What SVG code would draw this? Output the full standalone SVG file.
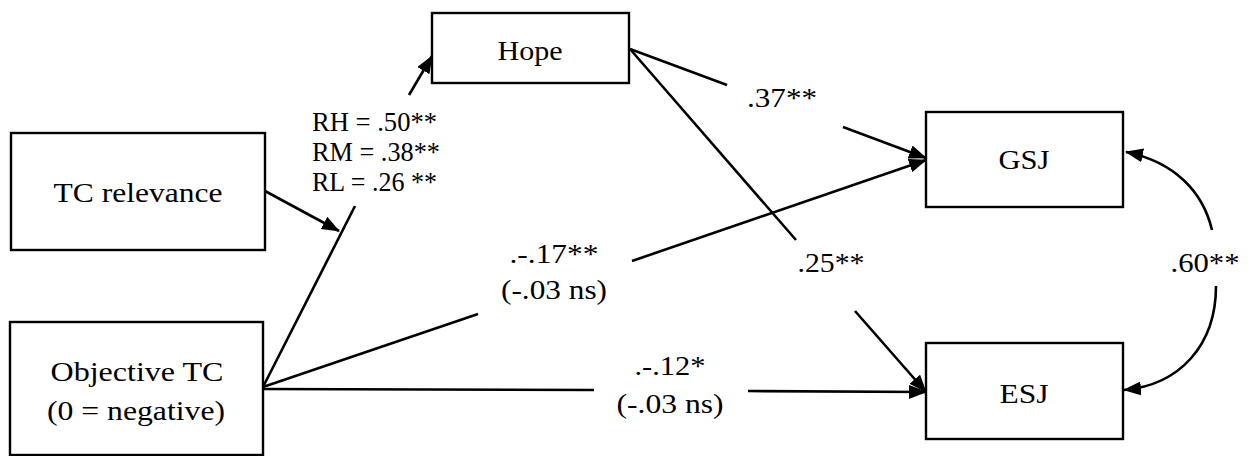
<svg xmlns="http://www.w3.org/2000/svg" width="1250" height="456" viewBox="0 0 1250 456" font-family="Liberation Serif, Times New Roman, DejaVu Serif, serif">
<style>
  .box { fill: #fff; stroke: #000; stroke-width: 2.4; }
  .lbl { font-family: 'Liberation Serif', 'Times New Roman', 'DejaVu Serif', serif; font-size: 28px; fill: #000; text-anchor: middle; }
  .st { text-anchor: start; }
  .ln { fill: none; stroke: #000; stroke-width: 2.6; }
  .arr { marker-end: url(#ah); }
</style>
<defs>
  <marker id="ah" viewBox="0 0 18 14" refX="17" refY="7" markerWidth="18" markerHeight="14" markerUnits="userSpaceOnUse" orient="auto">
    <path d="M0,0 L18,7 L0,14 z" fill="#000"/>
  </marker>
</defs>
<rect width="1250" height="456" fill="#fff"/>

<g id="connectors">
  <line class="ln" x1="263" y1="387" x2="355" y2="206"/>
  <line class="ln arr" x1="409" y1="95" x2="432" y2="56"/>
  <line class="ln arr" x1="265" y1="191" x2="339" y2="231"/>
  <line class="ln" x1="630" y1="49" x2="727" y2="85"/>
  <line class="ln arr" x1="843" y1="127" x2="926" y2="158"/>
  <line class="ln" x1="630" y1="49" x2="796" y2="240"/>
  <line class="ln arr" x1="855" y1="311" x2="926" y2="392"/>
  <line class="ln" x1="263" y1="387" x2="478" y2="314"/>
  <line class="ln arr" x1="632" y1="261" x2="926" y2="160"/>
  <line class="ln" x1="263" y1="389" x2="594" y2="390"/>
  <line class="ln arr" x1="748" y1="391" x2="926" y2="392"/>
  <path class="ln arr" d="M1212,230 C1203,192 1175,162 1126,152"/>
  <path class="ln arr" d="M1216,286 C1216,345 1180,385 1124,390"/>
</g>

<g id="node-hope">
  <rect class="box" x="432" y="13" width="197" height="70"/>
  <text class="lbl" x="530" y="60" textLength="65" lengthAdjust="spacingAndGlyphs">Hope</text>
</g>
<g id="node-tc-relevance">
  <rect class="box" x="11" y="133" width="254" height="117"/>
  <text class="lbl" x="138" y="202" textLength="169" lengthAdjust="spacingAndGlyphs">TC relevance</text>
</g>
<g id="node-objective-tc">
  <rect class="box" x="10" y="322" width="253" height="133"/>
  <text class="lbl" x="137" y="381" textLength="173" lengthAdjust="spacingAndGlyphs">Objective TC</text>
  <text class="lbl" x="136" y="420" textLength="178" lengthAdjust="spacingAndGlyphs">(0 = negative)</text>
</g>
<g id="node-gsj">
  <rect class="box" x="926" y="112" width="197" height="95"/>
  <text class="lbl" x="1024" y="169" textLength="51" lengthAdjust="spacingAndGlyphs">GSJ</text>
</g>
<g id="node-esj">
  <rect class="box" x="926" y="343" width="197" height="96"/>
  <text class="lbl" x="1024" y="403" textLength="49" lengthAdjust="spacingAndGlyphs">ESJ</text>
</g>

<g id="labels">
  <text class="lbl st" x="312" y="131" textLength="125" lengthAdjust="spacingAndGlyphs">RH = .50**</text>
  <text class="lbl st" x="312" y="161" textLength="128" lengthAdjust="spacingAndGlyphs">RM = .38**</text>
  <text class="lbl st" x="312" y="191" textLength="125" lengthAdjust="spacingAndGlyphs">RL = .26 **</text>
  <text class="lbl" x="782" y="107" textLength="70" lengthAdjust="spacingAndGlyphs">.37**</text>
  <text class="lbl" x="554" y="263" textLength="89" lengthAdjust="spacingAndGlyphs">.-.17**</text>
  <text class="lbl" x="554" y="299" textLength="106" lengthAdjust="spacingAndGlyphs">(-.03 ns)</text>
  <text class="lbl" x="831" y="272" textLength="67" lengthAdjust="spacingAndGlyphs">.25**</text>
  <text class="lbl" x="670" y="375" textLength="71" lengthAdjust="spacingAndGlyphs">.-.12*</text>
  <text class="lbl" x="670" y="413" textLength="107" lengthAdjust="spacingAndGlyphs">(-.03 ns)</text>
  <text class="lbl" x="1205" y="272" textLength="69" lengthAdjust="spacingAndGlyphs">.60**</text>
</g>
</svg>
